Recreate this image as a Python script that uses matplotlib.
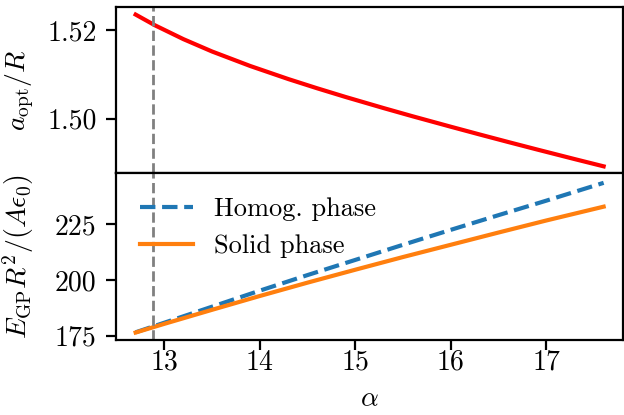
import matplotlib
matplotlib.use("Agg")
import matplotlib.pyplot as plt

# optimal lattice spacing vs alpha
alpha_a = [12.7, 12.9, 13.2, 13.5, 13.9, 14.3, 14.6, 14.9, 15.3, 15.6,
           16.0, 16.3, 16.6, 16.9, 17.3, 17.6]
a_opt = [1.5235, 1.5211, 1.51795, 1.51516, 1.51188, 1.50892, 1.50685, 1.50487,
         1.50235, 1.50052, 1.49816, 1.49642, 1.49471, 1.49303, 1.49083, 1.48921]

# GP energies vs alpha
alpha_e = [12.7, 13.0, 13.5, 14.0, 14.5, 15.0, 15.5, 16.0, 16.5, 17.0, 17.6]
e_homog = [176.5, 180.8, 188.0, 195.2, 202.2, 209.0, 215.8, 222.5, 229.1, 235.6, 243.6]
e_solid = [176.4, 180.3, 186.6, 192.8, 198.8, 204.6, 210.3, 215.8, 221.3, 226.7, 232.9]

alpha_c = 12.88  # transition point

plt.rcParams.update({
    'font.family': 'serif',
    'font.serif': ['cmr10'],
    'mathtext.fontset': 'cm',
    'axes.formatter.use_mathtext': False,
    'font.size': 10,
})

fig, (ax1, ax2) = plt.subplots(2, 1, sharex=True, figsize=(3.12, 2.075), dpi=200)
fig.subplots_adjust(left=0.186, right=0.998, top=0.983, bottom=0.181, hspace=0)

ax1.plot(alpha_a, a_opt, color='red', lw=1.5)
ax1.axvline(alpha_c, color='gray', ls='--', lw=1)
ax1.set_ylabel(r'$a_{\rm opt}/R$')
ax1.set_ylim(1.4876, 1.5252)
ax1.set_yticks([1.50, 1.52])
ax1.set_yticklabels(['1.50', '1.52'])
ax1.tick_params(axis='x', bottom=False)

ax2.plot(alpha_e, e_homog, color='tab:blue', ls='--', lw=1.5, label='Homog. phase')
ax2.plot(alpha_e, e_solid, color='tab:orange', lw=1.5, label='Solid phase')
ax2.axvline(alpha_c, color='gray', ls='--', lw=1)
ax2.set_ylabel(r'$E_{\rm GP}R^2/(A\epsilon_0)$')
ax2.set_xlabel(r'$\alpha$', labelpad=3.5)
ax2.set_ylim(173.1, 247.8)
ax2.set_yticks([175, 200, 225])
ax2.set_xlim(12.495, 17.80)
ax2.set_xticks([13, 14, 15, 16, 17])
ax2.tick_params(axis='x', pad=0)
ax2.legend(loc='upper left', frameon=False, fontsize=9.5)

fig.align_ylabels([ax1, ax2])
fig.savefig('out.png', dpi=200)
